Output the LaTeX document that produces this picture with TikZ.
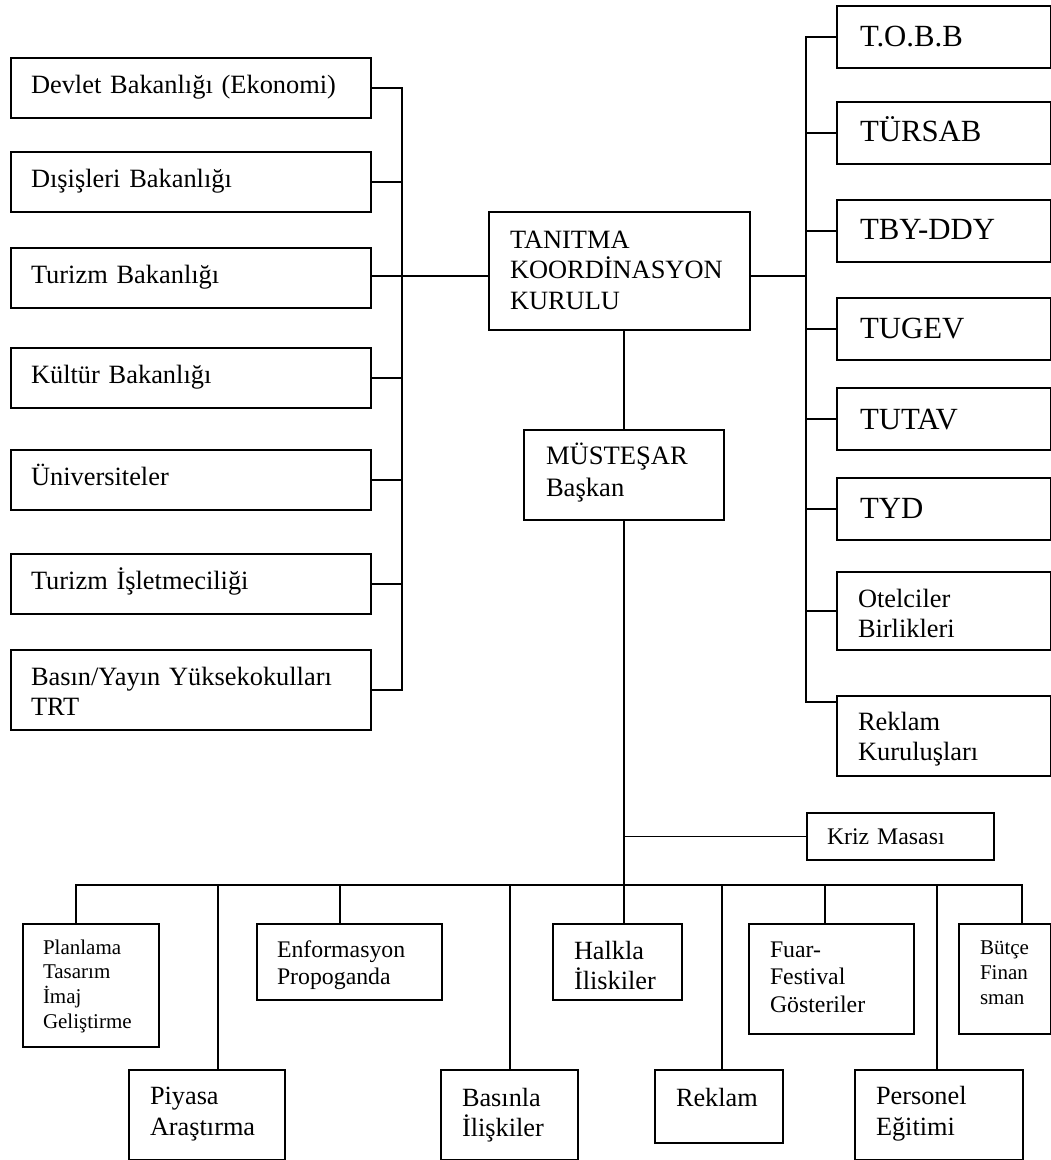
\documentclass[tikz,border=0pt]{standalone}
\usepackage{fontspec}
\setmainfont{Liberation Serif}
\newcommand\obx[9]{%
  \pgfmathsetmacro\oW{#4-#2}%
  \pgfmathsetmacro\oH{#5-#3}%
  \pgfmathsetmacro\oT{#4-#2-2*#6}%
  \pgfmathsetmacro\oD{#5-#3-#7}%
  \node[obox,#8,inner xsep=#6pt,text width=\oT pt,text height=#7pt,text depth=\oD pt,minimum width=\oW pt,minimum height=\oH pt] (#1) at (#2,#3) {#9};}
\begin{document}
\begin{tikzpicture}[x=1pt,y=-1pt,
  obox/.style={draw,line width=2pt,rectangle,anchor=north west,inner ysep=0pt,align=left},
  fmain/.style={font=\fontsize{26.4}{30}\selectfont},
  fbig/.style={font=\fontsize{30.8}{36}\selectfont},
  fmid/.style={font=\fontsize{23.8}{27.5}\selectfont},
  fsmall/.style={font=\fontsize{21}{24.7}\selectfont},
  conn/.style={line width=1.8pt,line cap=rect}]
\useasboundingbox (0,0) rectangle (1051,1160);
% left column
\obx{dev}{10}{57}{370}{117}{20}{35}{fmain}{Devlet Bakanlığı (Ekonomi)}
\obx{dis}{10}{151}{370}{211}{20}{35}{fmain}{Dışişleri Bakanlığı}
\obx{tur}{10}{247}{370}{307}{20}{35}{fmain}{Turizm Bakanlığı}
\obx{kul}{10}{347}{370}{407}{20}{35}{fmain}{Kültür Bakanlığı}
\obx{uni}{10}{449}{370}{509}{20}{35}{fmain}{Üniversiteler}
\obx{tis}{10}{553}{370}{613}{20}{35}{fmain}{Turizm İşletmeciliği}
\obx{bas}{10}{649}{370}{729}{20}{35}{fmain}{Basın/Yayın Yüksekokulları\\TRT}
% centre
\obx{tk}{488}{211}{749}{329}{21}{36}{font=\fontsize{26.4}{30.5}\selectfont}{TANITMA\\KOORDİNASYON\\KURULU}
\obx{mu}{523}{429}{723}{519}{22}{34}{font=\fontsize{26.6}{32}\selectfont}{MÜSTEŞAR\\Başkan}
% right column
\obx{tob}{836}{5}{1050}{67}{23}{40}{fbig}{T.O.B.B}
\obx{tsb}{836}{101}{1050}{163}{23}{39}{fbig}{TÜRSAB}
\obx{tby}{836}{199}{1050}{261}{23}{39}{fbig}{TBY-DDY}
\obx{tug}{836}{297}{1050}{359}{23}{40}{fbig}{TUGEV}
\obx{tut}{836}{387}{1050}{449}{23}{41}{fbig}{TUTAV}
\obx{tyd}{836}{477}{1050}{539}{23}{40}{fbig}{TYD}
\obx{ote}{836}{571}{1050}{649}{21}{35}{fmain}{Otelciler\\Birlikleri}
\obx{rk}{836}{695}{1050}{775}{21}{34}{fmain}{Reklam\\Kuruluşları}
% lower part
\obx{kr}{806}{812}{993}{859}{20}{31}{fmid}{Kriz Masası}
\obx{pl}{22}{923}{158}{1046}{20}{30}{fsmall}{Planlama\\Tasarım\\İmaj\\Geliştirme}
\obx{en}{256}{923}{441}{999}{20}{33}{fmid}{Enformasyon\\Propoganda}
\obx{ha}{552}{923}{681}{999}{21}{35}{font=\fontsize{26.3}{30}\selectfont}{Halkla\\İliskiler}
\obx{fu}{748}{923}{913}{1033}{21}{33}{fmid}{Fuar-\\Festival\\Gösteriler}
\obx{bu}{958}{923}{1050}{1033}{21}{30}{font=\fontsize{21}{25}\selectfont}{Bütçe\\Finan\\sman}
\obx{pi}{128}{1069}{284}{1159}{21}{34}{font=\fontsize{26.3}{31}\selectfont}{Piyasa\\Araştırma}
\obx{bs}{440}{1069}{577}{1159}{21}{36}{font=\fontsize{26.3}{30}\selectfont}{Basınla\\İlişkiler}
\obx{re}{654}{1069}{782}{1142}{21}{36}{font=\fontsize{26.3}{30}\selectfont}{Reklam}
\obx{pe}{854}{1069}{1022}{1159}{21}{34}{font=\fontsize{26.3}{31}\selectfont}{Personel\\Eğitimi}
% bus coordinates
\coordinate (lbx) at (402,0);
\coordinate (rbx) at (806,0);
\coordinate (tkl) at ([yshift=-5pt]tk.west);
\coordinate (tkr) at ([yshift=-5pt]tk.east);
\coordinate (rkc) at ([yshift=-7pt]rk.north west);
\coordinate (busL) at (76,885);
\coordinate (busR) at (1022,885);
\coordinate (d1) at (76,885);
\coordinate (d2) at (218,885);
\coordinate (d3) at (340,885);
\coordinate (d4) at (510,885);
\coordinate (d6) at (722,885);
\coordinate (d7) at (825,885);
\coordinate (d8) at (937,885);
\coordinate (d9) at (1022,885);
% left bus
\foreach \n in {dev,dis,kul,uni,tis,bas}{\draw[conn] (\n.east) -- (\n.east -| lbx);}
\draw[conn] (dev.east -| lbx) -- (bas.east -| lbx);
\draw[conn] (tkl -| tur.east) -- (tkl);
% right bus
\foreach \n in {tob,tsb,tby,tug,tut,tyd,ote}{\draw[conn] (\n.west) -- (\n.west -| rbx);}
\draw[conn] (rkc) -- (rkc -| rbx);
\draw[conn] (tob.west -| rbx) -- (rkc -| rbx);
\draw[conn] (tkr) -- (tkr -| rbx);
% main vertical
\draw[conn] (tk.south -| mu.north) -- (mu.north);
\draw[conn] (mu.south) -- (mu.south |- ha.north);
\draw[conn] (kr.west) -- (kr.west -| mu.south);
\draw[conn] (busL) -- (busR);
\draw[conn] (d1) -- (d1 |- pl.north);
\draw[conn] (d2) -- (d2 |- pi.north);
\draw[conn] (d3) -- (d3 |- en.north);
\draw[conn] (d4) -- (d4 |- bs.north);
\draw[conn] (d6) -- (d6 |- re.north);
\draw[conn] (d7) -- (d7 |- fu.north);
\draw[conn] (d8) -- (d8 |- pe.north);
\draw[conn] (d9) -- (d9 |- bu.north);
\end{tikzpicture}
\end{document}
